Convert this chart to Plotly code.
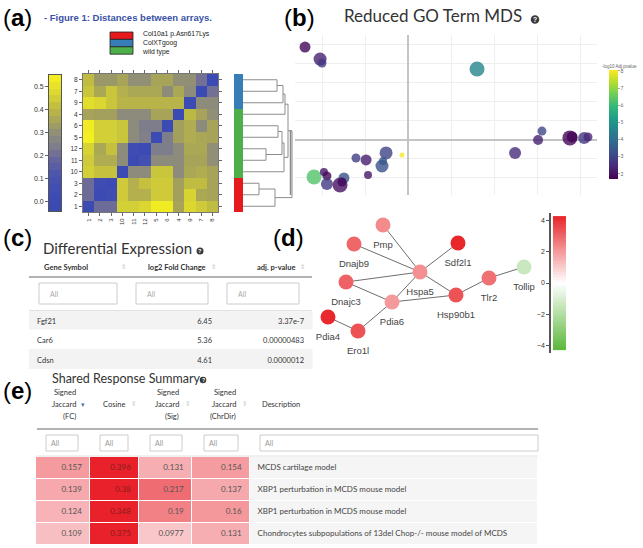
import numpy as np
import plotly.graph_objects as go

W, H = 643, 548


def fx(x):
    return x / W


def fy(y):
    return 1 - y / H


# (a) distances between arrays, samples in dendrogram order (bottom row first)
samples = ['1', '2', '3', '10', '11', '12', '5', '6', '4', '9', '7', '8']
dist = [
    # 1     2     3     10    11    12    5     6     4     9     7     8
    [0.00, 0.20, 0.20, 0.45, 0.45, 0.47, 0.53, 0.53, 0.35, 0.47, 0.44, 0.41],  # 1
    [0.20, 0.00, 0.05, 0.44, 0.38, 0.38, 0.44, 0.44, 0.34, 0.46, 0.36, 0.35],  # 2
    [0.20, 0.05, 0.00, 0.44, 0.38, 0.42, 0.44, 0.44, 0.34, 0.41, 0.41, 0.35],  # 3
    [0.45, 0.42, 0.42, 0.00, 0.29, 0.29, 0.43, 0.43, 0.29, 0.36, 0.37, 0.35],  # 10
    [0.44, 0.37, 0.37, 0.29, 0.00, 0.07, 0.29, 0.29, 0.29, 0.35, 0.35, 0.30],  # 11
    [0.46, 0.36, 0.42, 0.29, 0.05, 0.00, 0.24, 0.24, 0.29, 0.36, 0.36, 0.30],  # 12
    [0.54, 0.45, 0.45, 0.43, 0.29, 0.25, 0.00, 0.24, 0.34, 0.37, 0.36, 0.35],  # 5
    [0.53, 0.45, 0.45, 0.43, 0.29, 0.24, 0.24, 0.00, 0.34, 0.37, 0.29, 0.35],  # 6
    [0.35, 0.34, 0.34, 0.29, 0.29, 0.29, 0.35, 0.35, 0.00, 0.40, 0.35, 0.30],  # 4
    [0.49, 0.47, 0.43, 0.39, 0.39, 0.39, 0.39, 0.39, 0.39, 0.00, 0.29, 0.29],  # 9
    [0.43, 0.36, 0.43, 0.38, 0.36, 0.36, 0.36, 0.29, 0.36, 0.29, 0.00, 0.21],  # 7
    [0.41, 0.32, 0.32, 0.35, 0.30, 0.30, 0.35, 0.35, 0.30, 0.30, 0.21, 0.00],  # 8
]
group_names = ['Col10a1 p.Asn617Lys', 'ColXTgoog', 'wild type']
group_colors = ['#e41a1c', '#377eb8', '#4daf4a']
sample_group = [0, 0, 0, 2, 2, 2, 2, 2, 2, 1, 1, 1]
# (left, right, merge height) -- merge k is referred to as 'mk'
dendro_merges = [
    ('7', '8', 34), ('9', 'm0', 40), ('6', '5', 35), ('12', '11', 23),
    ('m2', 'm3', 39), ('10', 'm4', 41), ('4', 'm1', 42), ('m5', 'm6', 45),
    ('3', '2', 16), ('1', 'm8', 32), ('m7', 'm9', 49),
]

# (b) reduced GO term MDS
mds_x = [-0.479, -0.409, -0.400, 0.321, 0.623, 0.605, 0.753, 0.763, 0.819, 0.837,
         0.498, -0.028, -0.102, -0.121, -0.116, -0.195, -0.242, -0.186, -0.437,
         -0.391, -0.377, -0.377, -0.316, -0.298, -0.307]
mds_y = [0.489, 0.426, 0.405, 0.374, 0.047, 0.000, 0.011, 0.016, 0.011, 0.016,
         -0.068, -0.079, -0.068, -0.137, -0.111, -0.105, -0.095, -0.184, -0.195,
         -0.168, -0.189, -0.232, -0.237, -0.200, -0.221]
mds_size = [11, 13, 9, 15, 9, 10, 15, 11, 12, 9, 12, 5, 13, 13, 8, 11, 9, 8, 15,
            8, 9, 12, 15, 11, 9]
mds_logp = [1.8, 2.3, 2.8, 4.6, 3.1, 2.3, 1.8, 1.75, 2.8, 2.4, 2.5, 8.0, 3.0, 3.3,
            3.5, 2.2, 2.9, 2.1, 6.3, 2.1, 1.8, 2.8, 2.0, 3.3, 1.8]

# (c) differential expression
de_gene = ['Fgf21', 'Car6', 'Cdsn']
de_log2fc = ['6.45', '5.36', '4.61']
de_padj = ['3.37e-7', '0.00000483', '0.0000012']

# (d) network
net_gene = ['Pmp', 'Dnajb9', 'Sdf2l1', 'Hspa5', 'Dnajc3', 'Tollip', 'Tlr2',
            'Hsp90b1', 'Pdia6', 'Pdia4', 'Ero1l']
net_x = [7.3, 4.4, 14.8, 11.0, 3.6, 21.4, 17.9, 14.6, 8.2, 1.8, 4.8]
net_y = [13.5, 11.6, 11.7, 8.8, 7.8, 9.3, 8.2, 6.5, 5.8, 4.3, 2.9]
net_fc = [2.3, 3.0, 4.3, 2.2, 3.1, -1.4, 2.8, 3.4, 2.0, 4.5, 3.4]
net_edges = [('Pmp', 'Hspa5'), ('Dnajb9', 'Hspa5'), ('Sdf2l1', 'Hspa5'),
             ('Dnajc3', 'Hspa5'), ('Dnajc3', 'Pdia6'), ('Hspa5', 'Pdia6'),
             ('Hspa5', 'Hsp90b1'), ('Pdia6', 'Hsp90b1'), ('Hsp90b1', 'Tlr2'),
             ('Tlr2', 'Tollip'), ('Pdia6', 'Ero1l'), ('Ero1l', 'Pdia4')]

# (e) shared response summary
srs_fc = [0.157, 0.139, 0.124, 0.109]
srs_cos = [0.396, 0.38, 0.348, 0.375]
srs_sig = [0.131, 0.217, 0.19, 0.0977]
srs_chr = [0.154, 0.137, 0.16, 0.131]
srs_desc = ['MCDS cartilage model',
            'XBP1 perturbation in MCDS mouse model',
            'XBP1 perturbation in MCDS mouse model',
            'Chondrocytes subpopulations of 13del Chop-/- mouse model of MCDS']

ZMIN, ZMAX = -0.04, 0.55
dist_scale = [[0.0, '#3949b3'], [0.15, '#3f4db3'], [0.27, '#4c55ae'],
              [0.37, '#64639f'], [0.46, '#7b7a8e'], [0.56, '#8d8c7c'],
              [0.64, '#a29f5e'], [0.75, '#bdb944'], [0.85, '#d8d432'],
              [1.0, '#f8f21e']]
fc_scale = [[0, '#5cb83c'], [0.5, '#ffffff'], [1, '#e8272b']]
SANS = 'Liberation Sans, Arial, sans-serif'
LATO = 'Lato, sans-serif'

fig = go.Figure()

# ---- (a)
fig.add_trace(go.Heatmap(x=samples, y=samples, z=dist, colorscale=dist_scale,
                         zmin=ZMIN, zmax=ZMAX, showscale=False,
                         xaxis='x', yaxis='y', hoverinfo='skip'))
key_edges = np.linspace(ZMIN, ZMAX, 21)
key_mid = (key_edges[:-1] + key_edges[1:]) / 2
fig.add_trace(go.Heatmap(x=[0], y=key_mid, z=[[v] for v in key_mid],
                         colorscale=dist_scale, zmin=ZMIN, zmax=ZMAX,
                         showscale=False, xaxis='x2', yaxis='y2', hoverinfo='skip'))
grp_scale = [[0, group_colors[0]], [1 / 3, group_colors[0]],
             [1 / 3, group_colors[1]], [2 / 3, group_colors[1]],
             [2 / 3, group_colors[2]], [1, group_colors[2]]]
fig.add_trace(go.Heatmap(x=['g'], y=samples, z=[[g] for g in sample_group],
                         colorscale=grp_scale, zmin=-0.5, zmax=2.5, showscale=False,
                         xaxis='x3', yaxis='y', hoverinfo='skip'))

node_pos = {s: i for i, s in enumerate(samples)}
node_h = {s: 0 for s in samples}
dx, dy = [], []
for k, (a, b, h) in enumerate(dendro_merges):
    dx += [node_h[a], h, h, node_h[b], None]
    dy += [node_pos[a], node_pos[a], node_pos[b], node_pos[b], None]
    node_pos[f'm{k}'] = (node_pos[a] + node_pos[b]) / 2
    node_h[f'm{k}'] = h
fig.add_trace(go.Scatter(x=dx, y=dy, mode='lines', line=dict(color='#8c8c8c', width=1),
                         xaxis='x4', yaxis='y4', hoverinfo='skip'))

# ---- (b)
fig.add_trace(go.Scatter(
    x=mds_x, y=mds_y, mode='markers', xaxis='x5', yaxis='y5', hoverinfo='skip',
    marker=dict(size=mds_size, color=mds_logp, colorscale='Viridis', cmin=1.7,
                cmax=8.05, opacity=0.8, line=dict(width=0),
                colorbar=dict(x=fx(609), xanchor='left', y=fy(124.5), yanchor='middle',
                              len=109 / H, lenmode='fraction', thickness=9,
                              outlinewidth=0, xpad=0, ypad=0,
                              tickvals=[2, 3, 4, 5, 6, 7, 8], ticks='outside',
                              ticklen=2, tickcolor='#aaa',
                              tickfont=dict(size=5, color='#666')))))

# ---- (c)
stripe = ['#f3f3f3', '#ffffff', '#f3f3f3']
fig.add_trace(go.Table(
    domain=dict(x=[fx(29), fx(312)], y=[fy(380), fy(309)]),
    columnwidth=[91, 100, 92],
    header=dict(values=['', '', ''], height=1, fill_color='white',
                line=dict(color='white', width=0.5)),
    cells=dict(values=[de_gene, de_log2fc, de_padj], height=19.5,
               align=['left', 'right', 'right'], fill_color=[stripe] * 3,
               line=dict(color=[stripe] * 3, width=0.5),
               font=dict(family=LATO, size=7.5, color='#333'))))

# ---- (d)
idx = {g: i for i, g in enumerate(net_gene)}
ex, ey = [], []
for a, b in net_edges:
    ex += [net_x[idx[a]], net_x[idx[b]], None]
    ey += [net_y[idx[a]], net_y[idx[b]], None]
fig.add_trace(go.Scatter(x=ex, y=ey, mode='lines', line=dict(color='#6e6e6e', width=1),
                         xaxis='x6', yaxis='y6', hoverinfo='skip', cliponaxis=False))
fig.add_trace(go.Scatter(
    x=net_x, y=net_y, mode='markers', xaxis='x6', yaxis='y6',
    hoverinfo='skip', cliponaxis=False,
    marker=dict(size=15, color=net_fc, colorscale=fc_scale, cmin=-4.25, cmax=4.25,
                line=dict(width=0))))
# labels sit a little further from the nodes than plotly's default offset
fig.add_trace(go.Scatter(
    x=net_x, y=net_y, mode='markers+text', text=net_gene, textposition='bottom center',
    textfont=dict(family=SANS, size=9.5, color='#444'), xaxis='x6', yaxis='y6',
    hoverinfo='skip', cliponaxis=False,
    marker=dict(size=24, color='rgba(0,0,0,0)', line=dict(width=0))))
fc_key = np.linspace(-4.25, 4.25, 86)
fig.add_trace(go.Heatmap(x=[0.5], y=fc_key, z=[[v] for v in fc_key], colorscale=fc_scale,
                         zmin=-4.25, zmax=4.25, showscale=False, xaxis='x7', yaxis='y7',
                         hoverinfo='skip'))


# ---- (e)
def shade(v):
    t = min(max((v - 0.025) / 0.29, 0), 1)
    return 'rgb({},{},{})'.format(round(255 - 23 * t), round(255 - 222 * t),
                                  round(255 - 212 * t))


num_cols = [srs_fc, srs_cos, srs_sig, srs_chr]
fig.add_trace(go.Table(
    domain=dict(x=[fx(35), fx(538)], y=[fy(548), fy(455)]),
    columnwidth=[55, 49, 53, 58, 288],
    header=dict(values=[''] * 5, height=1, fill_color='white',
                line=dict(color='white', width=0.5)),
    cells=dict(values=[[f'{v:g}' for v in c] for c in num_cols] + [srs_desc],
               height=22, align=['right'] * 4 + ['left'],
               fill_color=[[shade(v) for v in c] for c in num_cols] + [['#f5f5f5'] * 4],
               line=dict(color='white', width=1),
               font=dict(family=LATO, size=8,
                         color=['#555', '#8a1d1d', '#555', '#555', '#444']))))

# ---- decorations: labels, legends, table chrome
ann = []
shapes = []


def text(x, y, s, size, color='#333', family=LATO, xanchor='left', bold=False):
    ann.append(dict(x=fx(x), y=fy(y), xref='paper', yref='paper', text=s,
                    showarrow=False, xanchor=xanchor, yanchor='middle', align='left',
                    font=dict(family=family, size=size, color=color,
                              weight='bold' if bold else 'normal')))


def box(x0, y0, x1, y1, line='#cccccc', fill='white', width=1):
    shapes.append(dict(type='rect', xref='paper', yref='paper', x0=fx(x0), x1=fx(x1),
                       y0=fy(y1), y1=fy(y0), line=dict(color=line, width=width),
                       fillcolor=fill, layer='below'))


def hline(x0, x1, y, color, width):
    shapes.append(dict(type='line', xref='paper', yref='paper', x0=fx(x0), x1=fx(x1),
                       y0=fy(y), y1=fy(y), line=dict(color=color, width=width)))


def help_icon(x, y, d):
    shapes.append(dict(type='circle', xref='paper', yref='paper',
                       x0=fx(x - d / 2), x1=fx(x + d / 2), y0=fy(y + d / 2),
                       y1=fy(y - d / 2), fillcolor='#3a3a3a', line=dict(width=0)))
    text(x, y, '?', d * 0.8, color='white', family=SANS, xanchor='center', bold=True)


for lab, x, y in [('a', 1, 17), ('b', 282, 17), ('c', 1, 237), ('d', 271, 237), ('e', 1, 390)]:
    text(x, y, f'(<b>{lab}</b>)', 24, color='black', family=SANS)

text(42, 17, '- Figure 1: Distances between arrays.', 9.5, color='#3a52a6',
     family=SANS, bold=True)
for i, col in enumerate(group_colors):
    box(110, 32 + 7.4 * i, 133, 39.4 + 7.4 * i, line='#222', fill=col, width=0.8)
text(140, 43.2, '<br>'.join(group_names), 6.8, color='#222', family=SANS)

text(342, 16, 'Reduced GO Term MDS', 17, color='#333')
help_icon(535, 19.5, 8.5)
text(600, 66, '-log10 Adj.pvalue', 4.5, color='#666', family=SANS)
shapes.append(dict(type='line', xref='paper', yref='paper', x0=fx(290.5), x1=fx(290.5),
                   y0=fy(195), y1=fy(130), line=dict(color='#8a8a8a', width=1.5)))

text(41, 248, 'Differential Expression', 15, color='#333')
help_icon(200, 251, 7)
text(42, 267, 'Gene Symbol', 7.5, bold=True)
text(208, 267, 'log2 Fold Change', 7.5, xanchor='right', bold=True)
text(297, 267, 'adj. p-value', 7.5, xanchor='right', bold=True)
for x in (123, 213, 302):
    text(x, 267, '⇕', 6.5, color='#c8c8c8', family='DejaVu Sans', xanchor='center')
hline(29, 312, 277, '#9a9a9a', 1.5)
for x0, x1 in [(39, 117), (136, 208), (227, 299)]:
    box(x0, 283, x1, 304)
    text(x0 + 9, 293.5, 'All', 7, color='#aaa')
hline(29, 312, 310.5, '#e2e2e2', 1)

text(50, 378, 'Shared Response Summary', 12.5, color='#333')
help_icon(203, 380, 6.5)
srs_heads = [(['Signed', 'Jaccard', '(FC)'], 78), (['', 'Cosine', ''], 127),
             (['Signed', 'Jaccard', '(Sig)'], 181), (['Signed', 'Jaccard', '(ChrDir)'], 238)]
for lines, xr in srs_heads:
    for j, s in enumerate(lines):
        if s:
            text(xr, 392 + 12 * j, s, 7.5, color='#333', xanchor='right')
    if lines[2] == '(FC)':
        text(xr + 5, 404.5, '▾', 7, color='#5571a8', family='DejaVu Sans', xanchor='center')
    else:
        text(xr + 6, 404, '⇕', 6.5, color='#c8c8c8', family='DejaVu Sans', xanchor='center')
text(260, 404, 'Description', 7.5, color='#333')
hline(37, 538, 429, '#9a9a9a', 1.5)
for x0, x1 in [(46, 78), (100, 128), (150, 182), (204, 238), (260, 538)]:
    box(x0, 435, x1, 451)
    text(x0 + 3, 443, 'All', 7, color='#999')
hline(37, 538, 456, '#e2e2e2', 1)

tick_font = dict(family=SANS, size=6.5, color='#333')
fig.update_layout(
    width=W, height=H, margin=dict(l=0, r=0, t=0, b=0),
    paper_bgcolor='white', plot_bgcolor='white', showlegend=False, hovermode=False,
    font=dict(family=LATO),
    annotations=ann, shapes=shapes,
    xaxis=dict(domain=[fx(83), fx(218)], anchor='y', type='category', tickangle=-90,
               tickfont=dict(family=SANS, size=6, color='#333'), ticks='outside',
               ticklen=3, tickcolor='#666', showline=True, mirror='ticks',
               linecolor='#777', linewidth=1, showgrid=False, zeroline=False),
    yaxis=dict(domain=[fy(212), fy(74)], anchor='x', type='category', tickfont=tick_font,
               ticks='outside', ticklen=3, tickcolor='#666', showline=True,
               mirror='ticks', linecolor='#777', linewidth=1, showgrid=False,
               zeroline=False),
    xaxis2=dict(domain=[fx(49), fx(61)], anchor='y2', range=[-0.5, 0.5],
                showticklabels=False, ticks='', showline=True, mirror=True,
                linecolor='#555', linewidth=0.8, showgrid=False, zeroline=False),
    yaxis2=dict(domain=[fy(211), fy(75)], anchor='x2', range=[ZMIN, ZMAX],
                tickvals=[0, 0.1, 0.2, 0.3, 0.4, 0.5], tickformat='.1f',
                tickfont=dict(family=SANS, size=7, color='#333'), ticks='outside',
                ticklen=3, tickcolor='#666', showline=True, mirror=True,
                linecolor='#555', linewidth=0.8, showgrid=False, zeroline=False),
    xaxis3=dict(domain=[fx(234), fx(243)], anchor='y', visible=False),
    xaxis4=dict(domain=[fx(243), fx(294)], anchor='y4', range=[0, 51], visible=False),
    yaxis4=dict(domain=[fy(212), fy(74)], anchor='x4', range=[-0.5, 11.5], visible=False),
    xaxis5=dict(domain=[fx(295), fx(597)], anchor='y5', range=[-0.5256, 0.879], dtick=0.2,
                showticklabels=False, ticks='', gridcolor='#efefef', zeroline=True,
                zerolinecolor='#c4c4c4', zerolinewidth=1.5),
    yaxis5=dict(domain=[fy(195), fy(35)], anchor='x5', range=[-0.2895, 0.5526], dtick=0.1,
                showticklabels=False, ticks='', gridcolor='#efefef', zeroline=True,
                zerolinecolor='#c4c4c4', zerolinewidth=1.5),
    xaxis6=dict(domain=[fx(310), fx(540)], anchor='y6', range=[0, 23], visible=False),
    yaxis6=dict(domain=[fy(360), fy(200)], anchor='x6', range=[0, 16], visible=False),
    xaxis7=dict(domain=[fx(551), fx(566)], anchor='y7', range=[-0.15, 1.0], visible=False),
    yaxis7=dict(domain=[fy(353), fy(213)], anchor='x7', range=[-4.5, 4.5],
                tickvals=[-4, -2, 0, 2, 4], ticks='outside', ticklen=3, tickcolor='#555',
                tickfont=dict(family=SANS, size=7, color='#333'), showline=True,
                linecolor='#555', linewidth=1.5, showgrid=False, zeroline=False),
)

fig.write_html("out.html", config={'displayModeBar': False},
               post_script="document.body.style.margin='0px';")
